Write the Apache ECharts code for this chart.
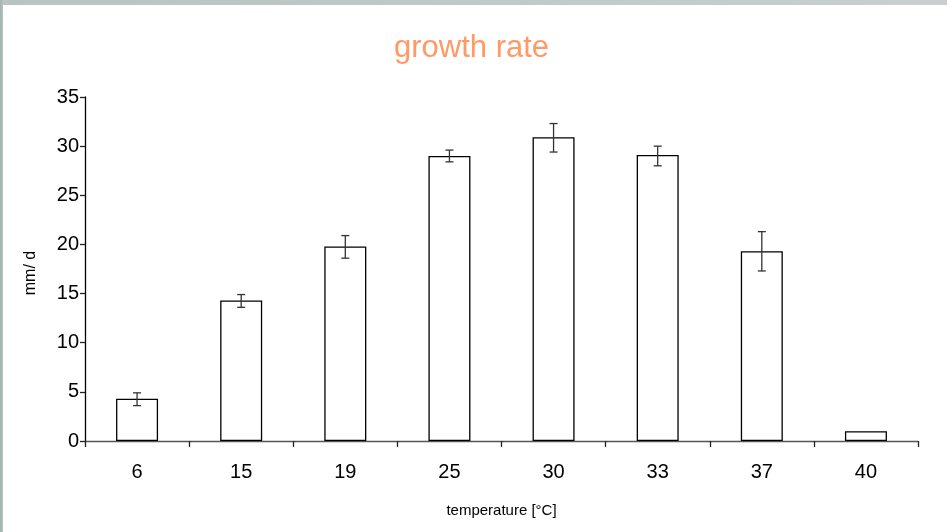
<!DOCTYPE html>
<html>
<head>
<meta charset="utf-8">
<script src="https://cdn.jsdelivr.net/npm/echarts@6/dist/echarts.min.js"></script>
<style>
html,body{margin:0;padding:0;}
body{width:947px;height:532px;overflow:hidden;position:relative;
background:linear-gradient(90deg,#9fb3ae 0px,#b7c4c1 3px,#c9cfcf 100%);}
#panel{position:absolute;left:3px;top:5px;right:0;bottom:0;background:#ffffff;}
#chart{position:absolute;left:0;top:0;width:947px;height:532px;}
</style>
</head>
<body>
<div id="panel"></div>
<div id="chart"></div>
<script>
const categories = ['6', '15', '19', '25', '30', '33', '37', '40'];
const growth = [4.3, 14.3, 19.8, 29.0, 30.9, 29.1, 19.3, 1.0];
const errLow = [3.6, 13.6, 18.6, 28.4, 29.4, 28.0, 17.3, null];
const errHigh = [4.9, 14.9, 20.9, 29.6, 32.3, 30.0, 21.3, null];
const yTicks = [0, 5, 10, 15, 20, 25, 30, 35];

const chart = echarts.init(document.getElementById('chart'), null, {renderer: 'canvas'});
const errData = categories.map((c, i) => [i, errLow[i], errHigh[i]]).filter(d => d[1] != null);
const FONT = 'Liberation Sans, Arial, sans-serif';
chart.setOption({
  backgroundColor: 'transparent',
  animation: false,
  title: {
    text: 'growth rate',
    left: 389, top: 28,
    textStyle: {color: '#ff9a66', fontSize: 31, fontWeight: 'normal', fontFamily: FONT}
  },
  grid: {left: 85, right: 29, top: 97, bottom: 91},
  xAxis: {
    type: 'category',
    data: categories,
    name: 'temperature [°C]',
    nameLocation: 'middle',
    nameGap: 62,
    nameTextStyle: {color: '#000', fontSize: 15, fontFamily: FONT},
    axisLine: {lineStyle: {color: '#555', width: 1.3}},
    axisTick: {show: true, inside: false, length: 6, alignWithLabel: false, lineStyle: {color: '#222', width: 1.3}},
    axisLabel: {color: '#000', fontSize: 20, fontFamily: FONT, margin: 21},
    splitLine: {show: false}
  },
  yAxis: {
    type: 'value',
    min: yTicks[0], max: yTicks[yTicks.length - 1], interval: 5,
    name: 'mm/ d',
    nameLocation: 'middle',
    nameGap: 46,
    nameRotate: 90,
    nameTextStyle: {color: '#000', fontSize: 16, fontFamily: FONT, padding: [0, 8, 0, 0]},
    axisLine: {show: true, lineStyle: {color: '#000', width: 1.3}},
    axisTick: {show: true, inside: false, length: 5, lineStyle: {color: '#222', width: 1.3}},
    axisLabel: {color: '#000', fontSize: 20, fontFamily: FONT, margin: 6},
    splitLine: {show: false}
  },
  series: [
    {
      type: 'bar',
      data: growth,
      barWidth: 42,
      itemStyle: {color: '#ffffff', borderColor: '#000', borderWidth: 1.3},
      z: 2
    },
    {
      type: 'custom',
      data: errData,
      z: 3,
      renderItem: function (params, api) {
        const x = api.value(0);
        const lo = api.coord([x, api.value(1)]);
        const hi = api.coord([x, api.value(2)]);
        const hw = 4;
        const style = {stroke: '#333', lineWidth: 1.3};
        return {
          type: 'group',
          children: [
            {type: 'line', shape: {x1: lo[0], y1: lo[1], x2: hi[0], y2: hi[1]}, style},
            {type: 'line', shape: {x1: lo[0] - hw, y1: lo[1], x2: lo[0] + hw, y2: lo[1]}, style},
            {type: 'line', shape: {x1: hi[0] - hw, y1: hi[1], x2: hi[0] + hw, y2: hi[1]}, style}
          ]
        };
      }
    }
  ]
});
</script>
</body>
</html>
